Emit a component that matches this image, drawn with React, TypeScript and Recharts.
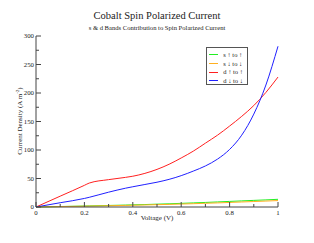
import { LineChart, Line, XAxis, YAxis } from 'recharts';

const voltage = [0, 0.1, 0.2, 0.22, 0.3, 0.37, 0.4, 0.45, 0.5, 0.55, 0.6, 0.65, 0.7, 0.75, 0.8, 0.85, 0.9, 0.95, 1.0];
const sUp = [0, 0.8, 1.7, 1.9, 2.7, 3.4, 3.8, 4.3, 5, 5.6, 6.4, 7.2, 8, 8.9, 9.8, 10.7, 11.6, 12.5, 13.5];
const sDown = [0, 0.7, 1.4, 1.6, 2.2, 2.8, 3.1, 3.6, 4.1, 4.6, 5.2, 5.8, 6.5, 7.2, 8, 8.8, 9.6, 10.4, 11.3];
const dUp = [0, 19, 38, 42, 48, 52, 54, 59, 66, 75, 86, 98, 112, 126, 142, 159, 178, 201, 228];
const dDown = [0, 7.5, 15, 17, 26, 33, 35.5, 39.5, 43.5, 48.5, 55, 63, 72, 84, 101, 126, 163, 214, 282];

const xTicks = [0, 0.1, 0.2, 0.3, 0.4, 0.5, 0.6, 0.7, 0.8, 0.9, 1];
const yTicks = [0, 25, 50, 75, 100, 125, 150, 175, 200, 225, 250, 275, 300];

const series = [
  { key: 'sUp', label: 's \u2191 to \u2191', color: '#22ee22' },
  { key: 'sDown', label: 's \u2193 to \u2193', color: '#ffb020' },
  { key: 'dUp', label: 'd \u2191 to \u2191', color: '#ff2020' },
  { key: 'dDown', label: 'd \u2193 to \u2193', color: '#2020ff' },
];

const rows = voltage.map((v, i) => ({ v, sUp: sUp[i], sDown: sDown[i], dUp: dUp[i], dDown: dDown[i] }));

const FONT = '"Liberation Serif", "Times New Roman", serif';
const AXIS = '#444';
const TEXT = '#222';

const isMajorX = (v: number) => Math.abs(v * 5 - Math.round(v * 5)) < 1e-6;
const isMajorY = (v: number) => v % 50 === 0;
const fmtX = (v: number) => (v === 0 ? '0' : v === 1 ? '1' : v.toFixed(1));

const BottomTick = ({ x, y, payload }: any) => {
  const major = isMajorX(payload.value);
  return (
    <g>
      <line x1={x} x2={x} y1={y} y2={y - (major ? 5 : 3)} stroke={AXIS} />
      {major && (
        <text x={x} y={y + 7.5} textAnchor="middle" fontSize={6.8} fontFamily={FONT} fill={TEXT}>
          {fmtX(payload.value)}
        </text>
      )}
    </g>
  );
};

const TopTick = ({ x, y, payload }: any) => {
  const major = isMajorX(payload.value);
  return <line x1={x} x2={x} y1={y} y2={y + (major ? 5 : 3)} stroke={AXIS} />;
};

const LeftTick = ({ x, y, payload }: any) => {
  const major = isMajorY(payload.value);
  return (
    <g>
      <line x1={x} x2={x + (major ? 5 : 3)} y1={y} y2={y} stroke={AXIS} />
      {major && (
        <text x={x - 2} y={y + 2.3} textAnchor="end" fontSize={6.8} fontFamily={FONT} fill={TEXT}>
          {payload.value}
        </text>
      )}
    </g>
  );
};

const RightTick = ({ x, y, payload }: any) => {
  const major = isMajorY(payload.value);
  return <line x1={x} x2={x - (major ? 5 : 3)} y1={y} y2={y} stroke={AXIS} />;
};

export default function App() {
  return (
    <div style={{ position: 'absolute', left: 0, top: 0, width: 314, height: 243, background: '#fff', fontFamily: FONT, color: TEXT }}>
      <div style={{ position: 'absolute', top: 10, width: 314, textAlign: 'center', fontSize: 10.5, lineHeight: '12px' }}>
        Cobalt Spin Polarized Current
      </div>
      <div style={{ position: 'absolute', top: 24, width: 314, textAlign: 'center', fontSize: 6.6, lineHeight: '8px' }}>
        s &amp; d Bands Contribution to Spin Polarized Current
      </div>
      <LineChart width={314} height={243} data={rows} margin={{ top: 36, right: 36, bottom: 0, left: 0 }}>
        <XAxis
          dataKey="v"
          type="number"
          domain={[0, 1]}
          ticks={xTicks}
          interval={0}
          height={36}
          tickSize={0}
          tickMargin={0}
          tickLine={false}
          stroke={AXIS}
          tick={<BottomTick />}
        />
        <XAxis
          xAxisId="top"
          orientation="top"
          dataKey="v"
          type="number"
          domain={[0, 1]}
          ticks={xTicks}
          interval={0}
          height={0}
          tickSize={0}
          tickMargin={0}
          tickLine={false}
          stroke={AXIS}
          tick={<TopTick />}
        />
        <YAxis
          type="number"
          domain={[0, 300]}
          ticks={yTicks}
          interval={0}
          width={36}
          tickSize={0}
          tickMargin={0}
          tickLine={false}
          stroke={AXIS}
          tick={<LeftTick />}
        />
        <YAxis
          yAxisId="right"
          orientation="right"
          type="number"
          domain={[0, 300]}
          allowDataOverflow
          ticks={yTicks}
          interval={0}
          width={0}
          tickSize={0}
          tickMargin={0}
          tickLine={false}
          stroke={AXIS}
          tick={<RightTick />}
        />
        {series.map((s) => (
          <Line
            key={s.key}
            type="monotone"
            dataKey={s.key}
            stroke={s.color}
            strokeWidth={1}
            dot={false}
            isAnimationActive={false}
          />
        ))}
      </LineChart>
      <div style={{ position: 'absolute', top: 214, left: 36, width: 242, textAlign: 'center', fontSize: 7, lineHeight: '9px' }}>
        Voltage (V)
      </div>
      <div
        style={{
          position: 'absolute',
          left: 18.5,
          top: 121,
          transform: 'translate(-50%, -50%) rotate(-90deg)',
          whiteSpace: 'nowrap',
          fontSize: 7,
          lineHeight: '9px',
        }}
      >
        Current Density (A m<sup style={{ fontSize: 5, verticalAlign: 3 }}>-2</sup>)
      </div>
      <div
        style={{
          position: 'absolute',
          left: 206,
          top: 47,
          width: 42,
          height: 38,
          boxSizing: 'border-box',
          border: '1px solid #555',
          background: '#fff',
          paddingTop: 2.5,
        }}
      >
        {series.map((s) => (
          <div key={s.key} style={{ display: 'flex', alignItems: 'center', height: 8.7 }}>
            <div style={{ marginLeft: 2.3, width: 9, height: 1, background: s.color }} />
            <span style={{ marginLeft: 5, fontSize: 6.5, lineHeight: '8px', whiteSpace: 'nowrap' }}>{s.label}</span>
          </div>
        ))}
      </div>
    </div>
  );
}
